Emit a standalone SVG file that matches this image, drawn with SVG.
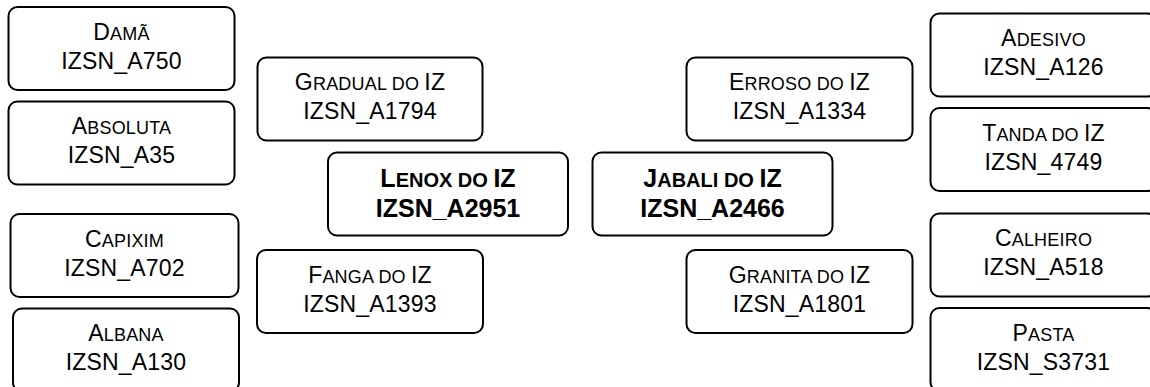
<svg xmlns="http://www.w3.org/2000/svg" width="1150" height="387" viewBox="0 0 1150 387">
<style>
rect.box{fill:#fff;stroke:#000;stroke-width:2}
text{font-family:"Liberation Sans",Arial,sans-serif;text-anchor:middle;fill:#000}
text.n{font-size:23px;letter-spacing:0.2px}
text.b{font-size:25px;font-weight:bold}
text.n tspan.s{font-size:18px}
text.b tspan.s{font-size:20px}
</style>
<rect width="1150" height="387" fill="#fff"/>
<g id="connectors"/>
<g id="n-dama"><rect class="box" x="8.5" y="7" width="226" height="83" rx="9"/><text class="n" x="121.5" y="39.5">D<tspan class="s">AMÃ</tspan></text><text class="n" x="121.5" y="68.5">IZSN_A750</text></g>
<g id="n-absoluta"><rect class="box" x="8.5" y="101.5" width="226" height="83" rx="9"/><text class="n" x="121.5" y="134">A<tspan class="s">BSOLUTA</tspan></text><text class="n" x="121.5" y="163">IZSN_A35</text></g>
<g id="n-capixim"><rect class="box" x="10.5" y="214" width="228" height="83" rx="9"/><text class="n" x="124.5" y="246.5">C<tspan class="s">APIXIM</tspan></text><text class="n" x="124.5" y="275.5">IZSN_A702</text></g>
<g id="n-albana"><rect class="box" x="13" y="308.5" width="226" height="83" rx="9"/><text class="n" x="126" y="341">A<tspan class="s">LBANA</tspan></text><text class="n" x="126" y="370">IZSN_A130</text></g>
<g id="n-gradual"><rect class="box" x="257.5" y="57.5" width="225" height="83" rx="9"/><text class="n" x="370" y="90">G<tspan class="s">RADUAL DO </tspan>IZ</text><text class="n" x="370" y="119">IZSN_A1794</text></g>
<g id="n-lenox"><rect class="box" x="328" y="152.5" width="240" height="83" rx="9"/><text class="b" x="448" y="186.5">L<tspan class="s">ENOX DO </tspan>IZ</text><text class="b" x="448" y="217">IZSN_A2951</text></g>
<g id="n-fanga"><rect class="box" x="257" y="250" width="226" height="83" rx="9"/><text class="n" x="370" y="282.5">F<tspan class="s">ANGA DO </tspan>IZ</text><text class="n" x="370" y="311.5">IZSN_A1393</text></g>
<g id="n-erroso"><rect class="box" x="686.5" y="57.5" width="226" height="83" rx="9"/><text class="n" x="799.5" y="90">E<tspan class="s">RROSO DO </tspan>IZ</text><text class="n" x="799.5" y="119">IZSN_A1334</text></g>
<g id="n-jabali"><rect class="box" x="592.5" y="152.5" width="240" height="83" rx="9"/><text class="b" x="712.5" y="186.5">J<tspan class="s">ABALI DO </tspan>IZ</text><text class="b" x="712.5" y="217">IZSN_A2466</text></g>
<g id="n-granita"><rect class="box" x="686.5" y="250" width="226" height="83" rx="9"/><text class="n" x="799.5" y="282.5">G<tspan class="s">RANITA DO </tspan>IZ</text><text class="n" x="799.5" y="311.5">IZSN_A1801</text></g>
<g id="n-adesivo"><rect class="box" x="930.5" y="13.5" width="226" height="83" rx="9"/><text class="n" x="1043.5" y="46">A<tspan class="s">DESIVO</tspan></text><text class="n" x="1043.5" y="75">IZSN_A126</text></g>
<g id="n-tanda"><rect class="box" x="930.5" y="108" width="226" height="83" rx="9"/><text class="n" x="1043.5" y="140.5">T<tspan class="s">ANDA DO </tspan>IZ</text><text class="n" x="1043.5" y="169.5">IZSN_4749</text></g>
<g id="n-calheiro"><rect class="box" x="930.5" y="213.5" width="226" height="83" rx="9"/><text class="n" x="1043.5" y="246">C<tspan class="s">ALHEIRO</tspan></text><text class="n" x="1043.5" y="275">IZSN_A518</text></g>
<g id="n-pasta"><rect class="box" x="930.5" y="308" width="226" height="83" rx="9"/><text class="n" x="1043.5" y="340.5">P<tspan class="s">ASTA</tspan></text><text class="n" x="1043.5" y="369.5">IZSN_S3731</text></g>
</svg>
